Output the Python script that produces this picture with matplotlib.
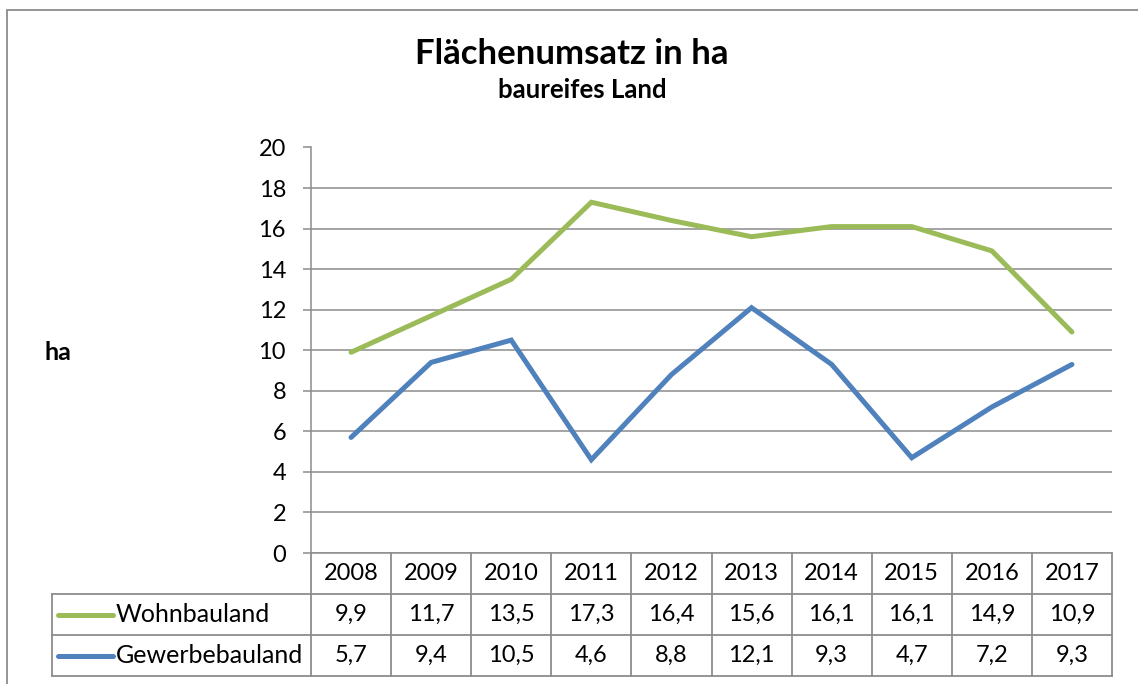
import matplotlib
matplotlib.use("Agg")
import matplotlib.pyplot as plt
from matplotlib.patches import Rectangle

plt.rcParams['font.family'] = ['Lato', 'DejaVu Sans']

years = ['2008', '2009', '2010', '2011', '2012', '2013', '2014', '2015', '2016', '2017']
wohnbauland = [9.9, 11.7, 13.5, 17.3, 16.4, 15.6, 16.1, 16.1, 14.9, 10.9]
gewerbebauland = [5.7, 9.4, 10.5, 4.6, 8.8, 12.1, 9.3, 4.7, 7.2, 9.3]
series_names = ['Wohnbauland', 'Gewerbebauland']
series_colors = ['#9BBB59', '#4F81BD']

W, H = 1138, 684
GRAY = '#8C8C8C'
fig = plt.figure(figsize=(W / 100, H / 100), dpi=100, facecolor='white')

# outer chart border (cut off at right and bottom)
fig.add_artist(Rectangle((7 / W, -0.1), 1.2, 1 - 10 / H + 0.1, transform=fig.transFigure,
                         fill=False, edgecolor=GRAY, linewidth=1.3))

# plot area in pixel positions
x0, x1, y_top, y_bot = 311, 1112, 147.5, 553
ax = fig.add_axes([x0 / W, 1 - y_bot / H, (x1 - x0) / W, (y_bot - y_top) / H])
xs = list(range(len(years)))
for vals, color in zip([wohnbauland, gewerbebauland], series_colors):
    ax.plot(xs, vals, color=color, linewidth=3.6, solid_capstyle='round', solid_joinstyle='miter')
ax.set_xlim(-0.5, len(years) - 0.5)
ax.set_ylim(0, 20)
ax.set_yticks(range(0, 21, 2))
ax.set_xticks([])
ax.grid(True, axis='y', color=GRAY, linewidth=1.1)
ax.set_axisbelow(True)
for s in ['top', 'right']:
    ax.spines[s].set_visible(False)
for s in ['left', 'bottom']:
    ax.spines[s].set_color(GRAY)
    ax.spines[s].set_linewidth(1.1)
ax.tick_params(axis='y', length=6, width=1.1, color=GRAY, labelsize=17, pad=12)

fig.text(572 / W, 1 - 54 / H, 'Flächenumsatz in ha', ha='center', va='center',
         fontsize=25, fontweight='bold')
fig.text(582 / W, 1 - 90 / H, 'baureifes Land', ha='center', va='center',
         fontsize=18.5, fontweight='bold')
fig.text(45 / W, 1 - 352 / H, 'ha', ha='left', va='center', fontsize=18, fontweight='bold')

# data table below the plot
col_w = (x1 - x0) / len(years)
left_px = 52
t_bot = 676
tax = fig.add_axes([left_px / W, 1 - t_bot / H, (x1 - left_px) / W, (t_bot - y_bot) / H])
xl = -0.5 - (x0 - left_px) / col_w
tax.set_xlim(xl, len(years) - 0.5)
tax.set_ylim(3, 0)
tax.axis('off')
for k in range(len(years) + 1):
    tax.plot([k - 0.5, k - 0.5], [0, 3], color=GRAY, linewidth=1.3, clip_on=False)
for r in [1, 2, 3]:
    tax.plot([xl, len(years) - 0.5], [r, r], color=GRAY, linewidth=1.3, clip_on=False)
tax.plot([xl, xl], [1, 3], color=GRAY, linewidth=1.3, clip_on=False)

for i, y in enumerate(years):
    tax.text(i, 0.5, y, ha='center', va='center', fontsize=17)
for r, (name, vals, color) in enumerate(zip(series_names, [wohnbauland, gewerbebauland], series_colors), start=1):
    kx0 = -0.5 + (58 - x0) / col_w
    kx1 = -0.5 + (113 - x0) / col_w
    tax.plot([kx0, kx1], [r + 0.5, r + 0.5], color=color, linewidth=3.6, solid_capstyle='round')
    tax.text(-0.5 + (116 - x0) / col_w, r + 0.5, name, ha='left', va='center', fontsize=18)
    for i, v in enumerate(vals):
        tax.text(i, r + 0.5, f'{v:.1f}'.replace('.', ','), ha='center', va='center', fontsize=17)

fig.savefig('out.png', dpi=100, facecolor='white')
